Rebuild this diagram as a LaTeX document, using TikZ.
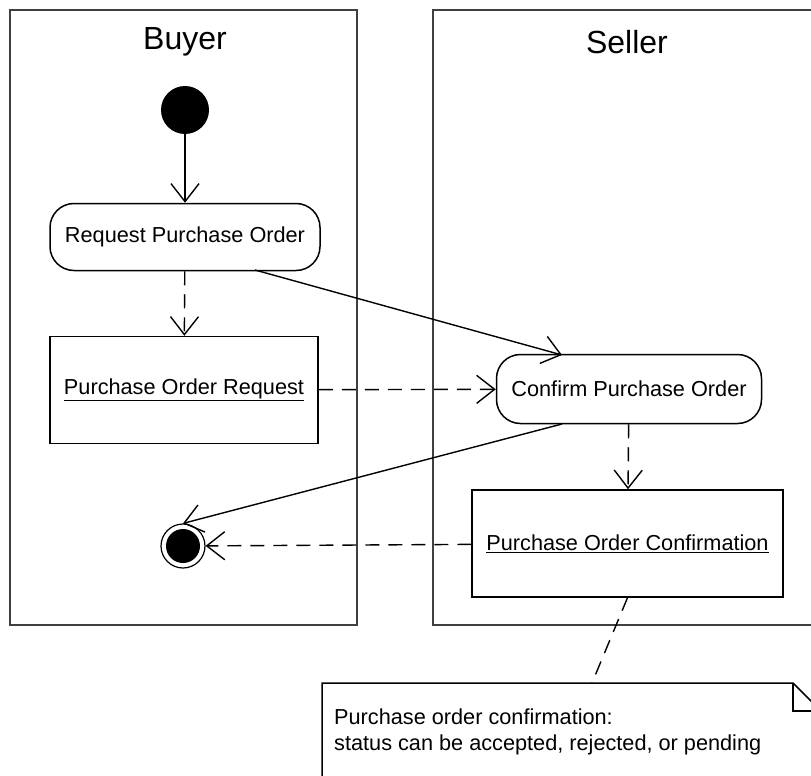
\documentclass[tikz,border=0pt]{standalone}
\usepackage{fontspec}
\setmainfont{Liberation Sans}
\usetikzlibrary{arrows.meta}
\tikzset{
  lane/.style={draw=black!75, line width=1.4pt},
  lanetitle/.style={font=\fontsize{32}{36}\selectfont},
  action/.style={draw, line width=1.5pt, rounded corners=24pt, font=\fontsize{21.7}{26}\selectfont, inner sep=0pt},
  object/.style={draw, line width=1.5pt, font=\fontsize{21.7}{26}\selectfont, inner sep=0pt},
  flow/.style={line width=1.4pt, -{Straight Barb[length=18pt,width=28pt,line width=1.4pt]}},
  objflow/.style={flow, dash pattern=on 14pt off 9pt},
  anchorline/.style={line width=1.4pt, dash pattern=on 14pt off 9pt},
  notetext/.style={font=\fontsize{21.7}{26}\selectfont, align=left, anchor=north west, inner sep=0pt}
}
\begin{document}
\begin{tikzpicture}[x=1pt,y=-1pt]
  \clip (0,0) rectangle (811,776);
  \fill[white] (0,0) rectangle (811,776);

  % swimlanes
  \draw[lane] (10,10) rectangle (357,625);
  \draw[lane] (433,10) rectangle (840,625);
  \node[lanetitle] (buyer) at (185,42) {Buyer};
  \node[lanetitle] (seller) at (627,42) {Seller};

  % initial and final states
  \node[circle, fill=black, minimum size=48pt, inner sep=0pt] (start) at (185,110) {};
  \node[circle, draw, line width=1.2pt, minimum size=44pt, inner sep=0pt] (stop) at (183,546) {};
  \fill (stop.center) circle (17pt);

  % actions and objects
  \node[action, minimum width=270pt, minimum height=67pt] (request) at (185,237) {Request Purchase Order};
  \node[object, minimum width=268pt, minimum height=107pt] (poreq) at (184,390) {\underline{Purchase Order Request}};
  \node[action, minimum width=265pt, minimum height=69pt] (confirm) at (629,389) {Confirm Purchase Order};
  \node[object, minimum width=311pt, minimum height=107pt] (poconf) at (627.5,543.5) {\underline{Purchase Order Confirmation}};

  % note with folded corner
  \coordinate (ntl) at (322,683);
  \coordinate (nfold) at (793,683);
  \coordinate (nfoldb) at (793,711);
  \coordinate (nright) at (821,711);
  \coordinate (nbot) at (821,800);
  \coordinate (nbl) at (322,800);
  \draw[line width=1.5pt] (ntl) -- (nfold) -- (nright) -- (nbot) -- (nbl) -- cycle;
  \draw[line width=1.5pt] (nfold) -- (nfoldb) -- (nright);
  \node[notetext] (note) at (334,709) {Purchase order confirmation:\\status can be accepted, rejected, or pending};
  \coordinate (noteanchor) at (592,683);

  % flows
  \coordinate (rq) at (255,270);
  \coordinate (cfin) at (562,355);
  \coordinate (cfout) at (562,424);
  \draw[flow] (start) -- (request);
  \draw[objflow] (request) -- (poreq);
  \draw[flow] (rq) -- (cfin);
  \draw[objflow] (poreq) -- (confirm);
  \draw[flow] (cfout) -- (stop.north);
  \draw[objflow] (confirm) -- (poconf);
  \draw[objflow] (poconf) -- (stop);
  \draw[anchorline] (poconf.south) -- (noteanchor);
\end{tikzpicture}
\end{document}
